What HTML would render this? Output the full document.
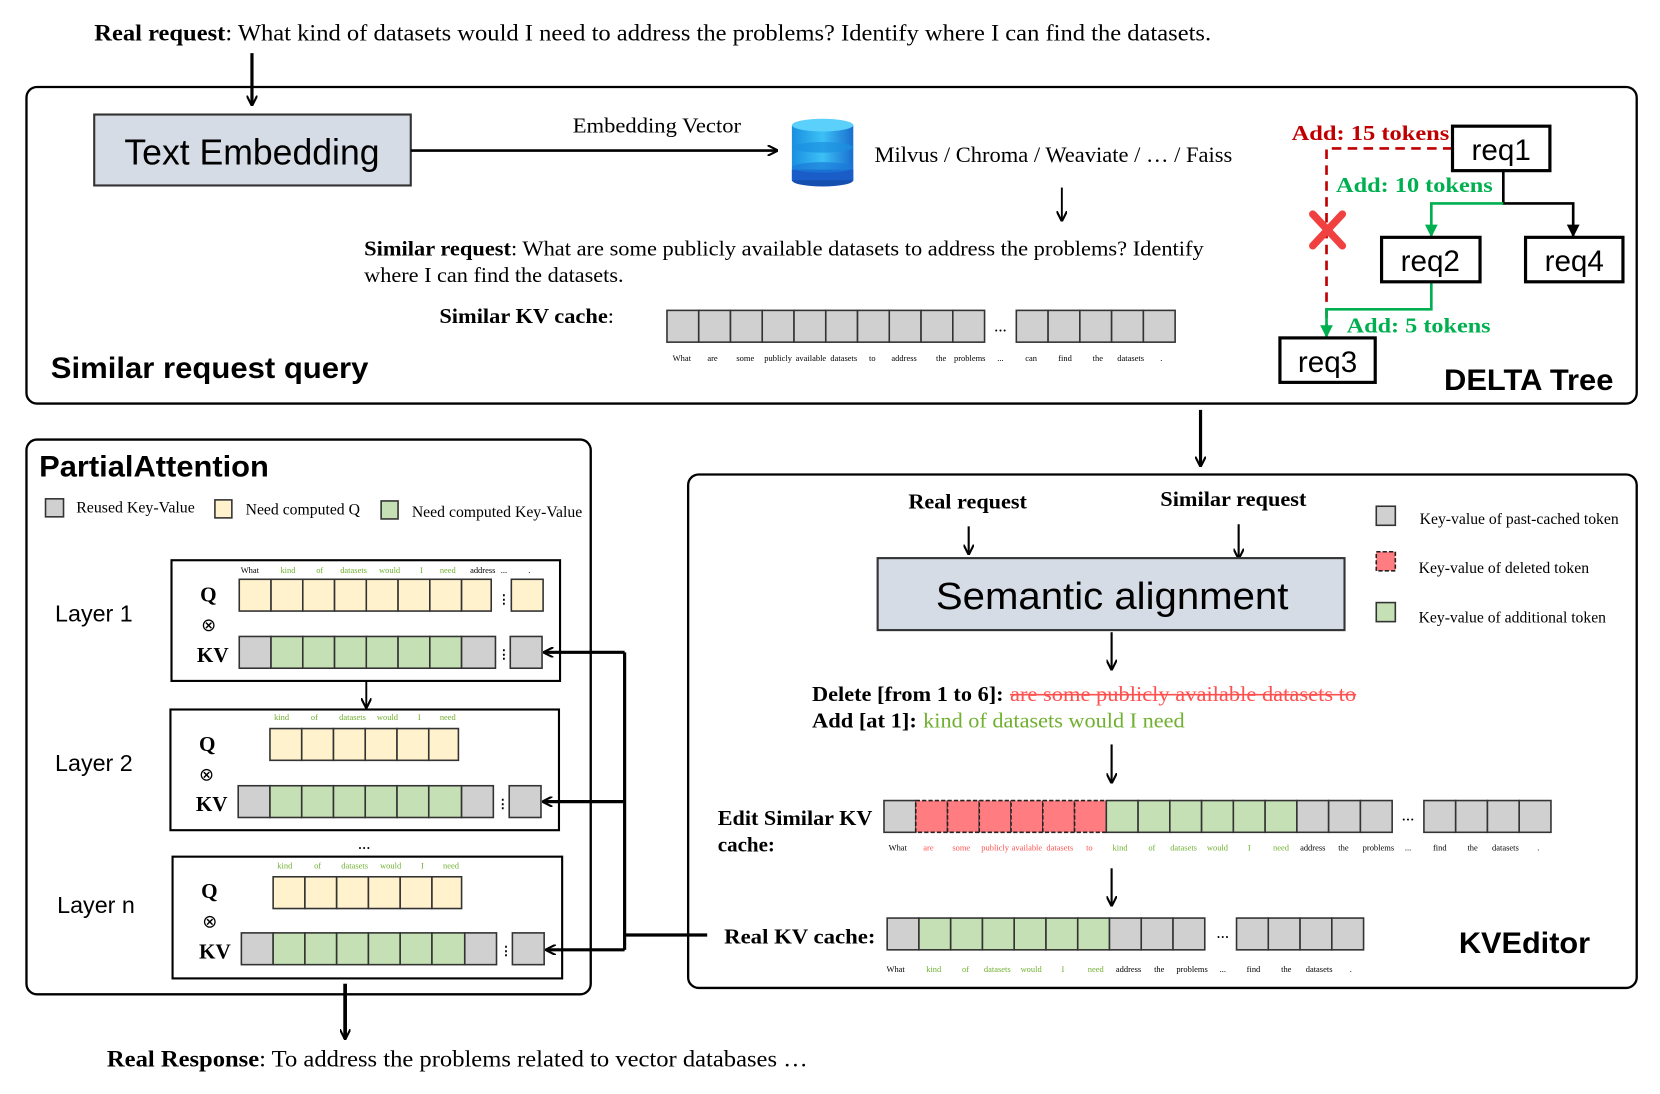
<!DOCTYPE html>
<html><head><meta charset="utf-8"><style>
html,body{margin:0;padding:0;background:#fff;width:1660px;height:1094px;overflow:hidden}
svg{display:block}
.s{font-family:"Liberation Serif",serif}
.a{font-family:"Liberation Sans",sans-serif}
.t{font-family:"Liberation Serif",serif;font-size:8px;text-anchor:middle}
.g{fill:#d0d0d0;stroke:#333;stroke-width:1.5}
.y{fill:#fff2cc;stroke:#333;stroke-width:1.5}
.gr{fill:#c5e0b4;stroke:#333;stroke-width:1.5}
.r{fill:#ff7c80;stroke:#222;stroke-width:1.5;stroke-dasharray:4 2}
</style></head><body>
<svg width="1660" height="1094" viewBox="0 0 1568 1033" xmlns="http://www.w3.org/2000/svg">
<defs>
<marker id="ah" markerWidth="10" markerHeight="10" refX="9" refY="5" orient="auto" markerUnits="userSpaceOnUse"><path d="M0,0 L10,5 L0,10" fill="none" stroke="#000" stroke-width="2"/></marker>
<marker id="af" markerWidth="12" markerHeight="12" refX="11" refY="6" orient="auto" markerUnits="userSpaceOnUse"><path d="M0,0 L12,6 L0,12 z" fill="#000"/></marker>
<marker id="ag" markerWidth="12" markerHeight="12" refX="11" refY="6" orient="auto" markerUnits="userSpaceOnUse"><path d="M0,0 L12,6 L0,12 z" fill="#00b050"/></marker>
<linearGradient id="db" x1="0" x2="1"><stop offset="0" stop-color="#1a8fe0"/><stop offset="0.5" stop-color="#3cc0f5"/><stop offset="1" stop-color="#1a6fd0"/></linearGradient>
</defs>

<text x="89" y="38" class="s" font-size="22" textLength="1055" lengthAdjust="spacingAndGlyphs"><tspan font-weight="bold">Real request</tspan>: What kind of datasets would I need to address the problems? Identify where I can find the datasets.</text>
<line x1="238" y1="50" x2="238" y2="99" stroke="#000" stroke-width="3" marker-end="url(#ah)"/>

<!-- top box -->
<rect x="25" y="82" width="1521" height="299" rx="10" fill="none" stroke="#000" stroke-width="2.2"/>
<rect x="89" y="108" width="299" height="67" fill="#d6dce5" stroke="#333" stroke-width="2"/>
<text x="238" y="155" class="a" font-size="34" text-anchor="middle" textLength="241" lengthAdjust="spacingAndGlyphs">Text Embedding</text>
<line x1="388" y1="142" x2="734" y2="142" stroke="#000" stroke-width="2.5" marker-end="url(#ah)"/>
<text x="541" y="125" class="s" font-size="20" textLength="159" lengthAdjust="spacingAndGlyphs">Embedding Vector</text>
<g>
<rect x="748" y="118" width="58" height="52" fill="url(#db)"/>
<ellipse cx="777" cy="170" rx="29" ry="6" fill="#1550b0"/>
<rect x="748" y="160" width="58" height="10" fill="#1a5cc8"/>
<ellipse cx="777" cy="158" rx="29" ry="5" fill="#1b7ad8" opacity=".7"/>
<ellipse cx="777" cy="139" rx="29" ry="5" fill="#1b90e0" opacity=".7"/>
<ellipse cx="777" cy="118" rx="29" ry="6" fill="#5ad0fa"/>
</g>
<text x="826" y="153" class="s" font-size="21" textLength="338" lengthAdjust="spacingAndGlyphs">Milvus / Chroma / Weaviate / … / Faiss</text>
<line x1="1003" y1="177" x2="1003" y2="208" stroke="#000" stroke-width="1.8" marker-end="url(#ah)"/>
<text x="344" y="241" class="s" font-size="20" textLength="793" lengthAdjust="spacingAndGlyphs"><tspan font-weight="bold">Similar request</tspan>: What are some publicly available datasets to address the problems? Identify</text>
<text x="344" y="266" class="s" font-size="20" textLength="245" lengthAdjust="spacingAndGlyphs">where I can find the datasets.</text>
<text x="415" y="305" class="s" font-size="20" font-weight="bold" textLength="165" lengthAdjust="spacingAndGlyphs">Similar KV cache<tspan font-weight="normal">:</tspan></text>
<g class="g">
<rect x="630" y="293" width="30" height="30"/><rect x="660" y="293" width="30" height="30"/><rect x="690" y="293" width="30" height="30"/><rect x="720" y="293" width="30" height="30"/><rect x="750" y="293" width="30" height="30"/><rect x="780" y="293" width="30" height="30"/><rect x="810" y="293" width="30" height="30"/><rect x="840" y="293" width="30" height="30"/><rect x="870" y="293" width="30" height="30"/><rect x="900" y="293" width="30" height="30"/>
<rect x="960" y="293" width="30" height="30"/><rect x="990" y="293" width="30" height="30"/><rect x="1020" y="293" width="30" height="30"/><rect x="1050" y="293" width="30" height="30"/><rect x="1080" y="293" width="30" height="30"/>
</g>
<text x="945" y="313" class="s" font-size="16" text-anchor="middle">...</text>
<g class="t">
<text x="644" y="341">What</text><text x="673" y="341">are</text><text x="704" y="341">some</text><text x="735" y="341">publicly</text><text x="766" y="341">available</text><text x="797" y="341">datasets</text><text x="824" y="341">to</text><text x="854" y="341">address</text><text x="889" y="341">the</text><text x="916" y="341">problems</text><text x="945" y="341">...</text><text x="974" y="341">can</text><text x="1006" y="341">find</text><text x="1037" y="341">the</text><text x="1068" y="341">datasets</text><text x="1097" y="341">.</text>
</g>
<text x="48" y="357" class="a" font-size="28" font-weight="bold" textLength="300" lengthAdjust="spacingAndGlyphs">Similar request query</text>

<!-- DELTA tree -->
<path d="M1372,140 H1253 V317" fill="none" stroke="#c00000" stroke-width="2.5" stroke-dasharray="9 6"/>
<path d="M1420,161 V192 H1486 V223" fill="none" stroke="#000" stroke-width="2.5" marker-end="url(#af)"/>
<path d="M1420,192 H1352 V223" fill="none" stroke="#00b050" stroke-width="2.5" marker-end="url(#ag)"/>
<path d="M1352,266 V292 H1253 V318" fill="none" stroke="#00b050" stroke-width="2.5" marker-end="url(#ag)"/>
<g stroke="#f04040" stroke-width="7" stroke-linecap="round"><line x1="1240" y1="202" x2="1268" y2="232"/><line x1="1268" y1="202" x2="1240" y2="232"/></g>
<g fill="#fff" stroke="#000" stroke-width="3">
<rect x="1372" y="119" width="92" height="42"/><rect x="1305" y="224" width="93" height="42"/><rect x="1441" y="224" width="92" height="42"/><rect x="1209" y="319" width="90" height="42"/>
</g>
<g class="a" font-size="28" text-anchor="middle">
<text x="1418" y="151">req1</text><text x="1351" y="256">req2</text><text x="1487" y="256">req4</text><text x="1254" y="351">req3</text>
</g>
<g class="s" font-size="20" font-weight="bold">
<text x="1220" y="132" fill="#c00000" textLength="149" lengthAdjust="spacingAndGlyphs">Add: 15 tokens</text>
<text x="1262" y="181" fill="#00b050" textLength="148" lengthAdjust="spacingAndGlyphs">Add: 10 tokens</text>
<text x="1272" y="314" fill="#00b050" textLength="136" lengthAdjust="spacingAndGlyphs">Add: 5 tokens</text>
</g>
<text x="1364" y="368" class="a" font-size="28" font-weight="bold" textLength="160" lengthAdjust="spacingAndGlyphs">DELTA Tree</text>

<line x1="1134" y1="387" x2="1134" y2="440" stroke="#000" stroke-width="3" marker-end="url(#ah)"/>

<!-- Partial attention -->
<rect x="25" y="415" width="533" height="524" rx="10" fill="none" stroke="#000" stroke-width="2.2"/>
<text x="37" y="450" class="a" font-size="28" font-weight="bold" textLength="217" lengthAdjust="spacingAndGlyphs">PartialAttention</text>
<rect x="43" y="471" width="17" height="17" class="g"/><text x="72" y="484" class="s" font-size="15" textLength="112" lengthAdjust="spacingAndGlyphs">Reused Key-Value</text>
<rect x="203" y="472" width="16" height="17" class="y"/><text x="232" y="486" class="s" font-size="15" textLength="108" lengthAdjust="spacingAndGlyphs">Need computed Q</text>
<rect x="360" y="473" width="16" height="17" class="gr"/><text x="389" y="488" class="s" font-size="15" textLength="161" lengthAdjust="spacingAndGlyphs">Need computed Key-Value</text>

<g fill="#fff" stroke="#000" stroke-width="2">
<rect x="162" y="529" width="367" height="114"/><rect x="161" y="670" width="367" height="114"/><rect x="163" y="809" width="368" height="115"/>
</g>
<g class="a" font-size="22"><text x="52" y="587">Layer 1</text><text x="52" y="728">Layer 2</text><text x="54" y="862">Layer n</text></g>
<g class="s" font-size="20" font-weight="bold">
<text x="189" y="568">Q</text><text x="186" y="625">KV</text>
<text x="188" y="709">Q</text><text x="185" y="766">KV</text>
<text x="190" y="848">Q</text><text x="188" y="905">KV</text>
</g>
<g class="s" font-size="17"><text x="190" y="596">⊗</text><text x="188" y="737">⊗</text><text x="191" y="876">⊗</text></g>

<!-- layer1 -->
<g class="y">
<rect x="226" y="547" width="30" height="30"/><rect x="256" y="547" width="30" height="30"/><rect x="286" y="547" width="30" height="30"/><rect x="316" y="547" width="30" height="30"/><rect x="346" y="547" width="30" height="30"/><rect x="376" y="547" width="30" height="30"/><rect x="406" y="547" width="30" height="30"/><rect x="436" y="547" width="28" height="30"/><rect x="483" y="547" width="30" height="30"/>
</g>
<rect x="226" y="601" width="30" height="30" class="g"/>
<g class="gr"><rect x="256" y="601" width="30" height="30"/><rect x="286" y="601" width="30" height="30"/><rect x="316" y="601" width="30" height="30"/><rect x="346" y="601" width="30" height="30"/><rect x="376" y="601" width="30" height="30"/><rect x="406" y="601" width="30" height="30"/></g>
<rect x="436" y="601" width="32" height="30" class="g"/><rect x="482" y="601" width="30" height="30" class="g"/>
<g class="t"><text x="236" y="541">What</text><text x="476" y="541">...</text><text x="456" y="541">address</text><text x="500" y="541">.</text>
<g fill="#70b030"><text x="272" y="541">kind</text><text x="302" y="541">of</text><text x="334" y="541">datasets</text><text x="368" y="541">would</text><text x="398" y="541">I</text><text x="423" y="541">need</text></g></g>
<line x1="346" y1="643" x2="346" y2="668" stroke="#000" stroke-width="1.8" marker-end="url(#ah)"/>

<!-- layer2 -->
<g class="y"><rect x="255" y="688" width="30" height="30"/><rect x="285" y="688" width="30" height="30"/><rect x="315" y="688" width="30" height="30"/><rect x="345" y="688" width="30" height="30"/><rect x="375" y="688" width="30" height="30"/><rect x="405" y="688" width="28" height="30"/></g>
<rect x="225" y="742" width="30" height="30" class="g"/>
<g class="gr"><rect x="255" y="742" width="30" height="30"/><rect x="285" y="742" width="30" height="30"/><rect x="315" y="742" width="30" height="30"/><rect x="345" y="742" width="30" height="30"/><rect x="375" y="742" width="30" height="30"/><rect x="405" y="742" width="31" height="30"/></g>
<rect x="436" y="742" width="30" height="30" class="g"/><rect x="481" y="742" width="30" height="30" class="g"/>
<g class="t" fill="#70b030"><text x="266" y="680">kind</text><text x="297" y="680">of</text><text x="333" y="680">datasets</text><text x="366" y="680">would</text><text x="396" y="680">I</text><text x="423" y="680">need</text></g>
<text x="344" y="802" class="s" font-size="16" text-anchor="middle">...</text>

<!-- layern -->
<g class="y"><rect x="258" y="828" width="30" height="30"/><rect x="288" y="828" width="30" height="30"/><rect x="318" y="828" width="30" height="30"/><rect x="348" y="828" width="30" height="30"/><rect x="378" y="828" width="30" height="30"/><rect x="408" y="828" width="28" height="30"/></g>
<rect x="228" y="881" width="30" height="30" class="g"/>
<g class="gr"><rect x="258" y="881" width="30" height="30"/><rect x="288" y="881" width="30" height="30"/><rect x="318" y="881" width="30" height="30"/><rect x="348" y="881" width="30" height="30"/><rect x="378" y="881" width="30" height="30"/><rect x="408" y="881" width="31" height="30"/></g>
<rect x="439" y="881" width="30" height="30" class="g"/><rect x="484" y="881" width="30" height="30" class="g"/>
<g class="t" fill="#70b030"><text x="269" y="820">kind</text><text x="300" y="820">of</text><text x="335" y="820">datasets</text><text x="369" y="820">would</text><text x="399" y="820">I</text><text x="426" y="820">need</text></g>
<g class="s" font-size="12" font-weight="bold"><text x="470" y="570">⋮</text><text x="470" y="622">⋮</text><text x="469" y="763">⋮</text><text x="472" y="902">⋮</text></g>

<!-- feedback -->
<path d="M668,883 H590 M590,616 V897" fill="none" stroke="#000" stroke-width="3"/>
<g stroke="#000" stroke-width="3"><line x1="590" y1="616" x2="514" y2="616" marker-end="url(#ah)"/><line x1="590" y1="757" x2="513" y2="757" marker-end="url(#ah)"/><line x1="590" y1="897" x2="516" y2="897" marker-end="url(#ah)"/></g>

<line x1="326" y1="929" x2="326" y2="981" stroke="#000" stroke-width="3.5" marker-end="url(#ah)"/>
<text x="101" y="1007" class="s" font-size="22" textLength="662" lengthAdjust="spacingAndGlyphs"><tspan font-weight="bold">Real Response</tspan>: To address the problems related to vector databases …</text>

<!-- KVEditor -->
<rect x="650" y="448" width="896" height="485" rx="10" fill="none" stroke="#000" stroke-width="2.2"/>
<text x="858" y="480" class="s" font-size="20" font-weight="bold" textLength="112" lengthAdjust="spacingAndGlyphs">Real request</text>
<text x="1096" y="478" class="s" font-size="20" font-weight="bold" textLength="138" lengthAdjust="spacingAndGlyphs">Similar request</text>
<line x1="915" y1="497" x2="915" y2="523" stroke="#000" stroke-width="2" marker-end="url(#ah)"/>
<line x1="1170" y1="495" x2="1170" y2="527" stroke="#000" stroke-width="2" marker-end="url(#ah)"/>
<rect x="829" y="527" width="441" height="68" fill="#d6dce5" stroke="#333" stroke-width="2"/>
<text x="884" y="575" class="a" font-size="36" textLength="333" lengthAdjust="spacingAndGlyphs">Semantic alignment</text>
<rect x="1300" y="478" width="18" height="18" class="g"/><text x="1341" y="495" class="s" font-size="15" textLength="188" lengthAdjust="spacingAndGlyphs">Key-value of past-cached token</text>
<rect x="1300" y="521" width="18" height="18" class="r"/><text x="1340" y="541" class="s" font-size="15" textLength="161" lengthAdjust="spacingAndGlyphs">Key-value of deleted token</text>
<rect x="1300" y="569" width="18" height="18" class="gr"/><text x="1340" y="588" class="s" font-size="15" textLength="177" lengthAdjust="spacingAndGlyphs">Key-value of additional token</text>
<line x1="1050" y1="597" x2="1050" y2="632" stroke="#000" stroke-width="2" marker-end="url(#ah)"/>
<text x="767" y="662" class="s" font-size="20" font-weight="bold" textLength="181" lengthAdjust="spacingAndGlyphs">Delete [from 1 to 6]:</text>
<text x="954" y="662" class="s" font-size="20" fill="#ff5050" textLength="327" lengthAdjust="spacingAndGlyphs">are some publicly available datasets to</text>
<line x1="954" y1="656" x2="1281" y2="656" stroke="#ff5050" stroke-width="1.5"/>
<text x="767" y="687" class="s" font-size="20" font-weight="bold" textLength="99" lengthAdjust="spacingAndGlyphs">Add [at 1]:</text>
<text x="872" y="687" class="s" font-size="20" fill="#70b030" textLength="247" lengthAdjust="spacingAndGlyphs">kind of datasets would I need</text>
<line x1="1050" y1="703" x2="1050" y2="739" stroke="#000" stroke-width="2" marker-end="url(#ah)"/>
<text x="678" y="779" class="s" font-size="20" font-weight="bold" textLength="146" lengthAdjust="spacingAndGlyphs">Edit Similar KV</text>
<text x="678" y="804" class="s" font-size="20" font-weight="bold" textLength="54" lengthAdjust="spacingAndGlyphs">cache:</text>
<rect x="835" y="756" width="30" height="30" class="g"/>
<g class="r"><rect x="865" y="756" width="30" height="30"/><rect x="895" y="756" width="30" height="30"/><rect x="925" y="756" width="30" height="30"/><rect x="955" y="756" width="30" height="30"/><rect x="985" y="756" width="30" height="30"/><rect x="1015" y="756" width="30" height="30"/></g>
<g class="gr"><rect x="1045" y="756" width="30" height="30"/><rect x="1075" y="756" width="30" height="30"/><rect x="1105" y="756" width="30" height="30"/><rect x="1135" y="756" width="30" height="30"/><rect x="1165" y="756" width="30" height="30"/><rect x="1195" y="756" width="30" height="30"/></g>
<g class="g"><rect x="1225" y="756" width="30" height="30"/><rect x="1255" y="756" width="30" height="30"/><rect x="1285" y="756" width="30" height="30"/><rect x="1345" y="756" width="30" height="30"/><rect x="1375" y="756" width="30" height="30"/><rect x="1405" y="756" width="30" height="30"/><rect x="1435" y="756" width="30" height="30"/></g>
<text x="1330" y="775" class="s" font-size="16" text-anchor="middle">...</text>
<g class="t"><text x="848" y="803">What</text>
<g fill="#ff5050"><text x="877" y="803">are</text><text x="908" y="803">some</text><text x="940" y="803">publicly</text><text x="970" y="803">available</text><text x="1001" y="803">datasets</text><text x="1029" y="803">to</text></g>
<g fill="#70b030"><text x="1058" y="803">kind</text><text x="1088" y="803">of</text><text x="1118" y="803">datasets</text><text x="1150" y="803">would</text><text x="1180" y="803">I</text><text x="1210" y="803">need</text></g>
<text x="1240" y="803">address</text><text x="1269" y="803">the</text><text x="1302" y="803">problems</text><text x="1330" y="803">...</text><text x="1360" y="803">find</text><text x="1391" y="803">the</text><text x="1422" y="803">datasets</text><text x="1453" y="803">.</text></g>
<line x1="1050" y1="820" x2="1050" y2="855" stroke="#000" stroke-width="2" marker-end="url(#ah)"/>
<text x="684" y="891" class="s" font-size="20" font-weight="bold" textLength="143" lengthAdjust="spacingAndGlyphs">Real  KV cache:</text>
<rect x="838" y="867" width="30" height="30" class="g"/>
<g class="gr"><rect x="868" y="867" width="30" height="30"/><rect x="898" y="867" width="30" height="30"/><rect x="928" y="867" width="30" height="30"/><rect x="958" y="867" width="30" height="30"/><rect x="988" y="867" width="30" height="30"/><rect x="1018" y="867" width="30" height="30"/></g>
<g class="g"><rect x="1048" y="867" width="30" height="30"/><rect x="1078" y="867" width="30" height="30"/><rect x="1108" y="867" width="30" height="30"/><rect x="1168" y="867" width="30" height="30"/><rect x="1198" y="867" width="30" height="30"/><rect x="1228" y="867" width="30" height="30"/><rect x="1258" y="867" width="30" height="30"/></g>
<text x="1155" y="886" class="s" font-size="16" text-anchor="middle">...</text>
<g class="t"><text x="846" y="918">What</text>
<g fill="#70b030"><text x="882" y="918">kind</text><text x="912" y="918">of</text><text x="942" y="918">datasets</text><text x="974" y="918">would</text><text x="1004" y="918">I</text><text x="1035" y="918">need</text></g>
<text x="1066" y="918">address</text><text x="1095" y="918">the</text><text x="1126" y="918">problems</text><text x="1155" y="918">...</text><text x="1184" y="918">find</text><text x="1215" y="918">the</text><text x="1246" y="918">datasets</text><text x="1276" y="918">.</text></g>
<text x="1378" y="900" class="a" font-size="28" font-weight="bold" textLength="124" lengthAdjust="spacingAndGlyphs">KVEditor</text>
</svg>
</body></html>
